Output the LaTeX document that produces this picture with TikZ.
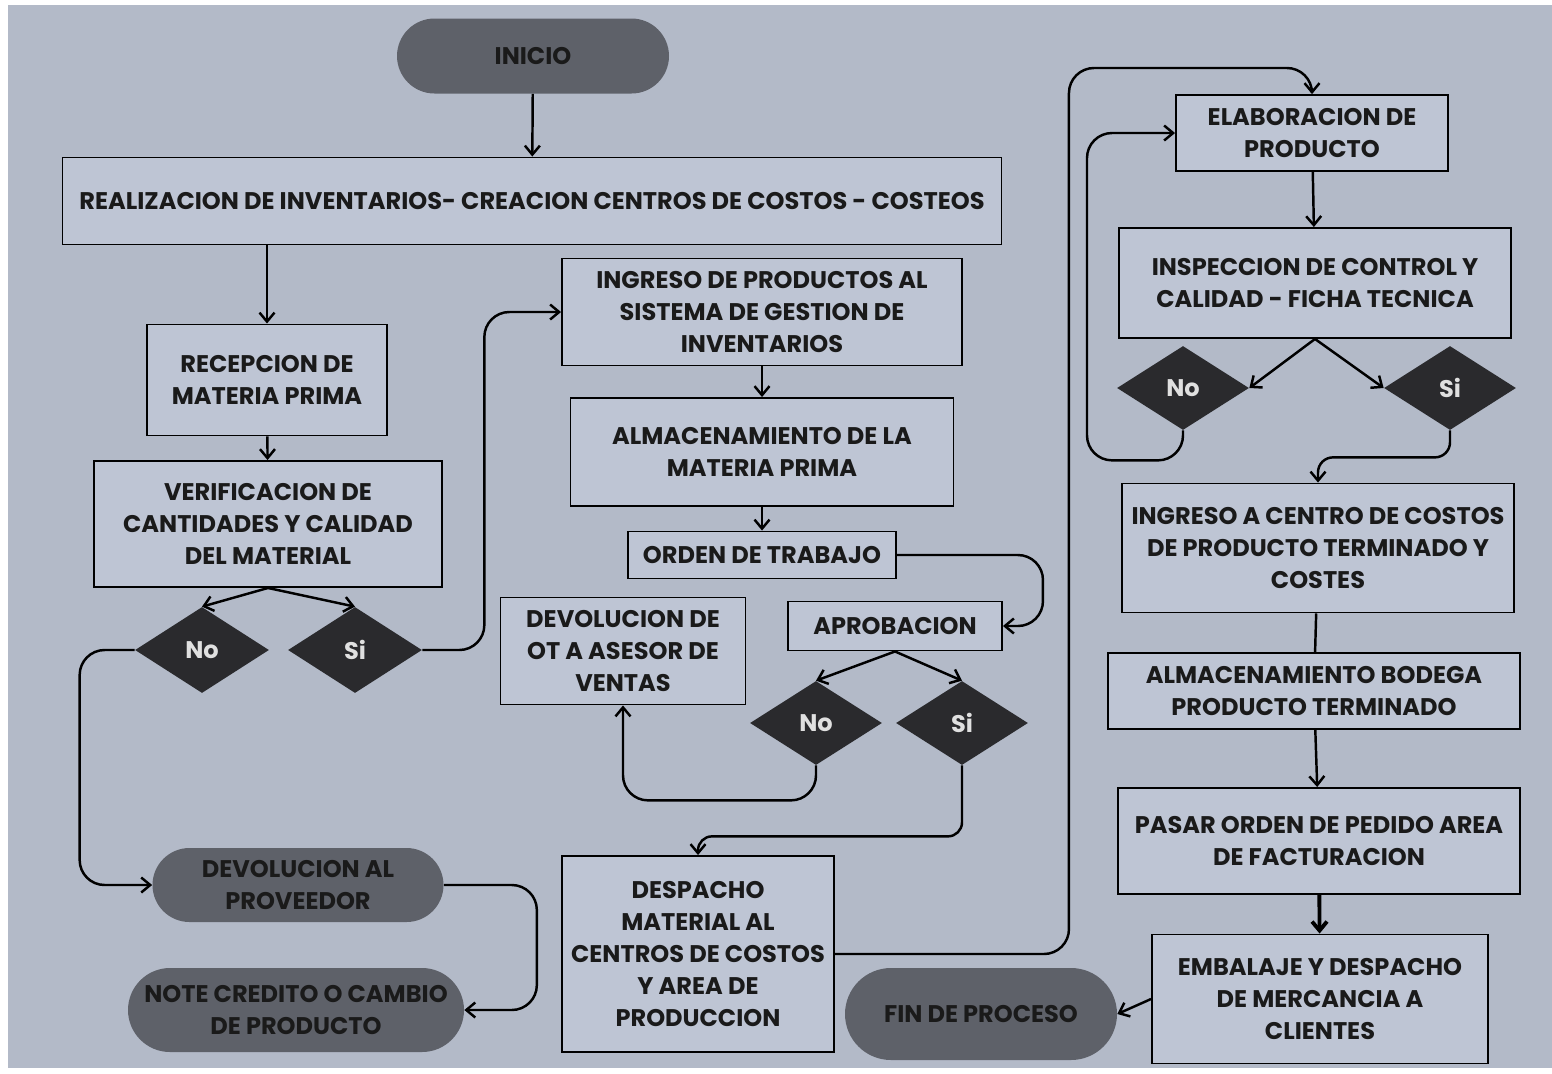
\documentclass[tikz,border=0pt]{standalone}
\usepackage{fontspec}
\setmainfont{Poppins}
\usetikzlibrary{arrows.meta,shapes.geometric,shapes.misc,positioning,calc}
\definecolor{bgc}{HTML}{B3BAC8}
\definecolor{boxc}{HTML}{BEC5D4}
\definecolor{pillc}{HTML}{5E6169}
\definecolor{diac}{HTML}{2A2A2D}
\definecolor{txtc}{HTML}{1A1A1A}
\tikzset{
  sz/.style 2 args={minimum width=#1*0.02cm, minimum height=#2*0.02cm},
  tfont/.style={font=\fontsize{13.7}{18.3}\selectfont\bfseries},
  box/.style={draw=black, line width=1.1pt, fill=boxc, align=center, inner sep=0pt, text=txtc, tfont},
  pill/.style={rounded rectangle, fill=pillc, align=center, inner sep=0pt, text=txtc, tfont},
  dia/.style={diamond, fill=diac, inner sep=0pt, text=white!88!black, tfont},
  arr/.style={line width=1.4pt, -{Straight Barb[length=1.8mm,width=3mm]}, rounded corners=0.5cm},
  ln/.style={line width=1.4pt},
}
\begin{document}
\begin{tikzpicture}[x=0.02cm,y=-0.02cm]
\fill[white] (0,0) rectangle (1552,1073);
\fill[bgc] (8,5) rectangle (1552,1068);
\useasboundingbox (0,0) rectangle (1552,1073);
% left column
\node[pill, sz={272}{75}] (ini) at (533,56) {INICIO};
\node[box, sz={939}{87}] (real) at (532,201) {REALIZACION DE INVENTARIOS- CREACION CENTROS DE COSTOS - COSTEOS};
\node[box, sz={240}{111}] (rec) at (267,380) {RECEPCION DE\\MATERIA PRIMA};
\node[box, sz={348}{126}] (ver) at (268,524) {VERIFICACION DE\\CANTIDADES Y CALIDAD\\DEL MATERIAL};
\node[dia, sz={134}{86}] (no1) at (202,650) {No};
\node[dia, sz={134}{86}] (si1) at (355,650) {Si};
\node[pill, sz={291}{74}] (devprov) at (298,885) {DEVOLUCION AL\\PROVEEDOR};
\node[pill, sz={336}{84}] (note) at (296,1010) {NOTE CREDITO O CAMBIO\\DE PRODUCTO};
% middle column
\node[box, sz={400}{107}] (ing) at (762,312) {INGRESO DE PRODUCTOS AL\\SISTEMA DE GESTION DE\\INVENTARIOS};
\node[box, sz={383}{108}] (alm) at (762,452) {ALMACENAMIENTO DE LA\\MATERIA PRIMA};
\node[box, sz={268}{47}] (ord) at (762,555) {ORDEN DE TRABAJO};
\node[box, sz={214}{49}] (apr) at (895,626) {APROBACION};
\node[box, sz={245}{107}] (devot) at (623,651) {DEVOLUCION DE\\OT A ASESOR DE\\VENTAS};
\node[dia, sz={132}{84}] (no2) at (816,723) {No};
\node[dia, sz={132}{84}] (si2) at (962,723) {Si};
\node[box, sz={272}{196}] (desp) at (698,954) {DESPACHO\\MATERIAL AL\\CENTROS DE COSTOS\\Y AREA DE\\PRODUCCION};
\node[pill, sz={272}{92}] (fin) at (981,1014) {FIN DE PROCESO};
% right column
\node[box, sz={272}{76}] (elab) at (1312,133) {ELABORACION DE\\PRODUCTO};
\node[box, sz={392}{110}] (insp) at (1315,283) {INSPECCION DE CONTROL Y\\CALIDAD - FICHA TECNICA};
\node[dia, sz={132}{84}] (no3) at (1183,388) {No};
\node[dia, sz={132}{84}] (si3) at (1450,388) {Si};
\node[box, sz={392}{129}] (ingcc) at (1318,548) {INGRESO A CENTRO DE COSTOS\\DE PRODUCTO TERMINADO Y\\COSTES};
\node[box, sz={412}{76}] (almbod) at (1314,691) {ALMACENAMIENTO BODEGA\\PRODUCTO TERMINADO};
\node[box, sz={402}{106}] (pasar) at (1319,841) {PASAR ORDEN DE PEDIDO AREA\\DE FACTURACION};
\node[box, sz={336}{129}] (emb) at (1320,999) {EMBALAJE Y DESPACHO\\DE MERCANCIA A\\CLIENTES};
% connectors
\draw[arr] (ini) -- (real);
\draw[arr] (rec |- real.south) -- (rec.north);
\draw[arr] (rec) -- (ver);
\draw[arr] (ver.south) -- (no1.north);
\draw[arr] (ver.south) -- (si1.north);
\draw[arr] (no1.west) -- ++(-55,0) |- (devprov.west);
\draw[arr] (devprov.east) -- ++(93,0) |- (note.east);
\draw[arr] (si1.east) -- ++(62,0) |- (ing.west);
\draw[arr] (ing) -- (alm);
\draw[arr] (alm) -- (ord);
\draw[arr] (ord.east) -- ++(146,0) |- (apr.east);
\draw[arr] (apr.south) -- (no2.north);
\draw[arr] (apr.south) -- (si2.north);
\draw[arr] (no2.south) -- ++(0,35) -| (devot.south);
\draw[arr, rounded corners=0.28cm] (si2.south) -- ++(0,71) -| (desp.north);
\draw[arr] (desp.east) -- ++(234,0) -- ++(0,-886) -| (elab.north);
\draw[arr] (elab) -- (insp);
\draw[arr] (insp.south) -- (no3.east);
\draw[arr] (insp.south) -- (si3.west);
\draw[arr] (no3.south) -- ++(0,30) -- ++(-96,0) |- (elab.west);
\draw[arr, rounded corners=0.3cm] (si3.south) -- ++(0,27) -| (ingcc.north);
\draw[ln] (ingcc) -- (almbod);
\draw[arr] (almbod) -- (pasar);
\draw[arr, line width=2.2pt] (pasar) -- (emb);
\draw[arr] (emb.west) -- (fin.east);
\end{tikzpicture}
\end{document}
